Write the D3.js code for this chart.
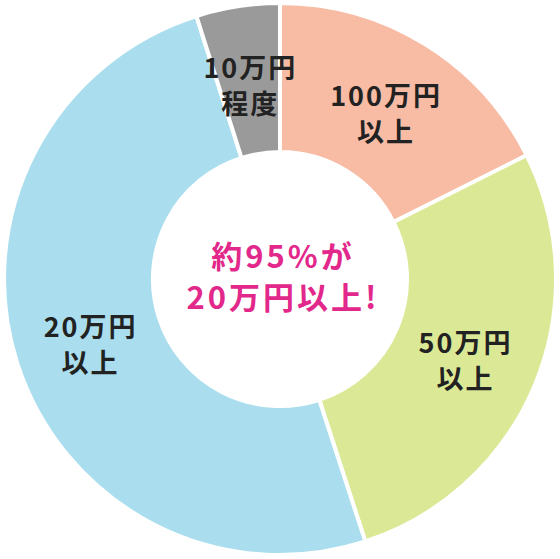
<!DOCTYPE html>
<html>
<head>
<meta charset="utf-8">
<script src="https://cdn.jsdelivr.net/npm/d3@7"></script>
<style>
  html, body { margin: 0; padding: 0; background: #fff; }
  text { font-family: "Noto Sans CJK JP", "Noto Sans", sans-serif; font-weight: 700; }
</style>
</head>
<body>
<div id="chart"></div>
<script>
// slices, clockwise from 12 o'clock
var labels = [["100万円", "以上"], ["50万円", "以上"], ["20万円", "以上"], ["10万円", "程度"]];
var values = [17.6, 27.4, 50.1, 4.9];
var colors = ["#f8bca5", "#dbe996", "#aadeee", "#9a9a9a"];
var centerLines = ["約95%が", "20万円以上!"];

var width = 560, height = 559;
var cx = 280, cy = 279;
var outerR = 276, innerR = 127;

var svg = d3.select("#chart").append("svg")
  .attr("width", width)
  .attr("height", height);

var g = svg.append("g")
  .attr("transform", "translate(" + cx + "," + cy + ")");

var pie = d3.pie().sort(null).value(function(d) { return d; });
var arcs = pie(values);

var arc = d3.arc().innerRadius(innerR).outerRadius(outerR);
var labelArc = d3.arc().innerRadius(200).outerRadius(200);

// slices, white stroke makes the gaps
g.selectAll("path.slice")
  .data(arcs)
  .enter().append("path")
  .attr("class", "slice")
  .attr("d", arc)
  .attr("fill", function(d, i) { return colors[i]; })
  .attr("stroke", "#fff")
  .attr("stroke-width", 4);

// slice labels
var lab = g.selectAll("text.lab")
  .data(arcs)
  .enter().append("text")
  .attr("class", "lab")
  .attr("text-anchor", "middle")
  .attr("font-size", 27)
  .attr("letter-spacing", 2)
  .attr("fill", "#222")
  .attr("transform", function(d) {
    var c = labelArc.centroid(d);
    return "translate(" + (c[0] + 1) + "," + (c[1] + 5) + ")";
  });

lab.selectAll("tspan")
  .data(function(d, i) { return labels[i]; })
  .enter().append("tspan")
  .attr("x", 0)
  .attr("y", function(d, j) { return j == 0 ? -8 : 28; })
  .text(function(d) { return d; });

// center message
g.selectAll("text.center")
  .data(centerLines)
  .enter().append("text")
  .attr("class", "center")
  .attr("text-anchor", "middle")
  .attr("font-size", 31)
  .attr("letter-spacing", 3)
  .attr("fill", "#e2288a")
  .attr("x", 3)
  .attr("y", function(d, i) { return i == 0 ? -11 : 30; })
  .text(function(d) { return d; });
</script>
</body>
</html>
